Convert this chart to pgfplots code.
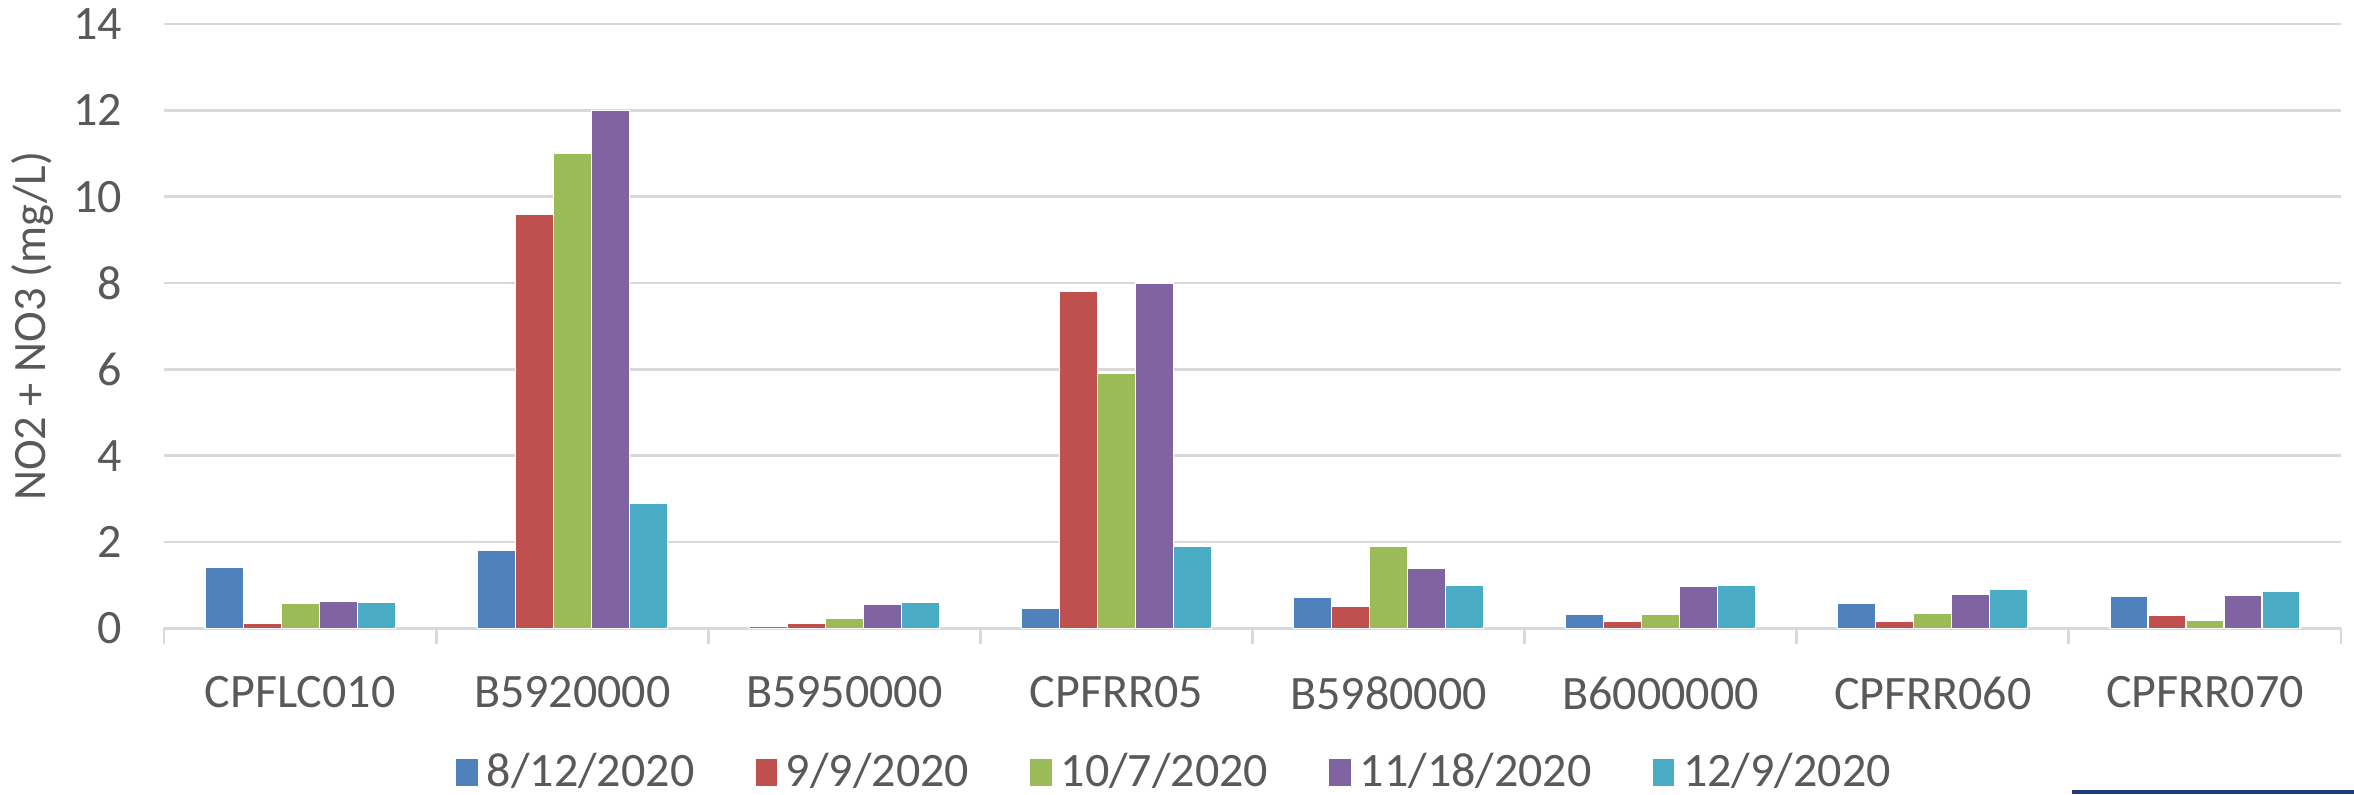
\documentclass[border=0pt]{standalone}
\usepackage{pgfplots}
\pgfplotsset{compat=1.18}
\usepackage{fontspec}
\setmainfont{Carlito}
\usetikzlibrary{calc}

\definecolor{s1}{HTML}{4F81BD}
\definecolor{s2}{HTML}{C0504D}
\definecolor{s3}{HTML}{9BBB59}
\definecolor{s4}{HTML}{8064A2}
\definecolor{s5}{HTML}{4BACC6}
\definecolor{txt}{HTML}{595959}
\definecolor{gridc}{HTML}{D9D9D9}
\definecolor{band}{HTML}{1F3A7A}

% one row per site, one column per sampling date
\pgfplotstableread{
x  d1    d2    d3    d4    d5
0  1.40  0.12  0.57  0.62  0.59
1  1.80  9.60  11.0  12.0  2.90
2  0.05  0.11  0.23  0.55  0.61
3  0.47  7.80  5.90  8.00  1.90
4  0.71  0.51  1.90  1.39  0.99
5  0.31  0.17  0.33  0.96  0.99
6  0.58  0.15  0.35  0.79  0.91
7  0.73  0.30  0.19  0.76  0.85
}\nitrate

\begin{document}
\begin{tikzpicture}
\begin{axis}[
    scale only axis,
    width=544pt, height=151pt,
    ybar=0pt, bar width=9.5pt,
    xmin=-0.5, xmax=7.5,
    ymin=0, ymax=14,
    xtick={0,...,7},
    xticklabels={CPFLC010,B5920000,B5950000,CPFRR05,B5980000,B6000000,CPFRR060,CPFRR070},
    minor xtick={-0.5,0.5,...,7.5},
    ytick={0,2,...,14},
    major tick length=0pt,
    minor tick length=4pt,
    tick align=outside,
    axis x line*=bottom,
    axis y line*=left,
    x axis line style={gridc, line width=0.7pt},
    y axis line style={draw=none},
    every minor tick/.style={gridc, line width=0.7pt},
    ymajorgrids,
    major grid style={gridc, line width=0.7pt},
    tick label style={font=\fontsize{12}{14}\selectfont, text=txt},
    /pgf/number format/assume math mode=true,
    yticklabel style={xshift=-7pt},
    xticklabel style={yshift=-8.6pt},
    ylabel={NO2 + NO3 (mg/L)},
    ylabel style={at={(axis description cs:0,0.5)}, anchor=center,
        yshift=32.75pt, font=\fontsize{11.6}{13}\selectfont, text=txt},
    legend columns=5,
    legend image code/.code={\fill[#1] (0pt,-3.6pt) rectangle (5.6pt,3.6pt);},
    legend style={at={(axis description cs:0.4653,-0.2384)}, anchor=center,
        draw=none, fill=none, font=\fontsize{12}{14}\selectfont, text=txt,
        /tikz/every even column/.append style={column sep=13pt}},
]
\addplot[fill=s1, draw=white, line width=0.3pt] table[x=x, y=d1] {\nitrate};
\addlegendentry{8/12/2020}
\addplot[fill=s2, draw=white, line width=0.3pt] table[x=x, y=d2] {\nitrate};
\addlegendentry{9/9/2020}
\addplot[fill=s3, draw=white, line width=0.3pt] table[x=x, y=d3] {\nitrate};
\addlegendentry{10/7/2020}
\addplot[fill=s4, draw=white, line width=0.3pt] table[x=x, y=d4] {\nitrate};
\addlegendentry{11/18/2020}
\addplot[fill=s5, draw=white, line width=0.3pt] table[x=x, y=d5] {\nitrate};
\addlegendentry{12/9/2020}
\coordinate (sw) at (rel axis cs:0,0);
\coordinate (ne) at (rel axis cs:1,1);
\end{axis}
\fill[band] ($(sw)+(476.75pt,-41.5pt)$) rectangle ($(ne|-sw)+(3.25pt,-40.5pt)$);
\pgfresetboundingbox
\path[use as bounding box] ($(sw)+(-41pt,-41.5pt)$) rectangle ($(ne)+(3.25pt,6pt)$);
\end{tikzpicture}
\end{document}
